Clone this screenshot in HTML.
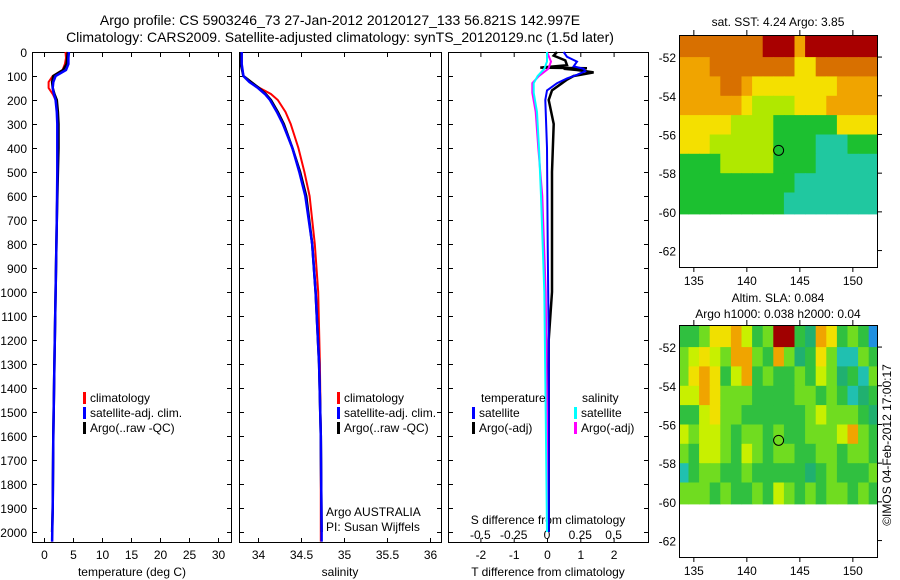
<!DOCTYPE html>
<html><head><meta charset="utf-8"><style>
html,body{margin:0;padding:0;background:#fff;width:900px;height:580px;overflow:hidden}
svg{display:block;font-family:"Liberation Sans",sans-serif}
</style></head><body>
<svg id="c" width="900" height="580" viewBox="0 0 900 580"></svg>
<script>
// ---- data ----
const tDepths=[0,25,50,75,100,125,150,175,200,250,300,400,500,700,1000,1300,1600,1900,2040];
const tClim=[3.7,3.8,3.6,3.2,1.5,0.8,0.8,1.5,2.0,2.3,2.4,2.4,2.3,2.2,2.0,1.8,1.6,1.5,1.4];
const tSat=[4.3,4.2,4.2,3.8,2.0,1.6,1.5,1.7,2.0,2.2,2.3,2.3,2.3,2.2,2.0,1.8,1.6,1.5,1.4];
const tArgoDepths=[0,25,50,75,100,125,150,175,200,250,300,400,500,700,1000,1300,1600,1900,2000];
const tArgo=[4.1,4.0,3.9,3.3,1.6,1.4,1.5,1.8,2.2,2.4,2.5,2.5,2.4,2.2,2.0,1.8,1.6,1.5,1.4];
const sDepths=[0,50,100,125,150,175,200,250,300,400,500,600,800,1000,1300,1600,2000,2040];
const sClim=[33.81,33.81,33.83,33.9,34.02,34.15,34.23,34.32,34.38,34.47,34.54,34.6,34.66,34.7,34.72,34.73,34.73,34.73];
const sSat=[33.81,33.81,33.83,33.9,34.0,34.08,34.14,34.22,34.29,34.4,34.48,34.55,34.63,34.67,34.71,34.73,34.74,34.74];
const sArgoDepths=[0,50,100,125,150,175,200,250,300,400,500,600,800,1000,1300,1600,2000];
const sArgo=[33.80,33.80,33.83,33.92,34.01,34.09,34.15,34.23,34.30,34.40,34.49,34.56,34.63,34.67,34.71,34.73,34.74];
const dtSatDepths=[0,20,40,60,70,80,95,110,130,160,200,400,800,1200,1600,2000];
const dtSat=[0.5,0.6,0.9,0.8,1.1,1.15,0.9,0.6,0.3,0.0,-0.05,0.0,0.02,0.05,0.05,0.05];
const dtArgoDepths=[0,15,35,55,65,68,70,75,85,100,115,130,160,200,300,500,800,1000,1200,1600,2000];
const dtArgo=[0.3,0.2,0.55,0.6,-0.2,1.2,0.5,0.9,1.4,0.8,0.6,0.45,0.15,0.05,0.2,0.15,0.15,0.15,0.05,0.05,0.05];
const dsDepths=[0,40,70,100,130,170,250,400,600,1000,1500,2000];
const dsSat=[0,0.0,-0.02,-0.07,-0.1,-0.1,-0.075,-0.06,-0.045,-0.02,-0.01,0.0];
const dsArgo=[0,0.03,0.01,-0.06,-0.11,-0.11,-0.085,-0.065,-0.035,-0.01,0.0,0.0];
const depthTicks=[0,100,200,300,400,500,600,700,800,900,1000,1100,1200,1300,1400,1500,1600,1700,1800,1900,2000];
const tTicks=[0,5,10,15,20,25,30];
const sTicks=[34,34.5,35,35.5,36];
const sTickLabels=['34','34.5','35','35.5','36'];
const dtTicks=[-2,-1,0,1,2];
const dsTicks=[-0.5,-0.25,0,0.25,0.5];
const dsTickLabels=['-0.5','-0.25','0','0.25','0.5'];
const lonTicks=[135,140,145,150];
const latTicks=[-52,-54,-56,-58,-60,-62];
const argoLon=142.997, argoLat=-56.821;
const sstRows=["6666666677757777777","5556666666644666666","5555665444444445555","5555554333344455555","4444433332222224444","4443333332222111222","2222333332222111111","2222222222211111111","2222222222111111111"];
const slaRows=["1124453127710541219","2343255215201428821","2454135121121320182","3354222111122121801","1134221111112322210","3233212212112223521","2133213212211221221","8122112111110121112","2221211213212122121"];
const sstColors={'1':'#20c8a0','2':'#1cc030','3':'#b0e800','4':'#f4e000','5':'#f0a400','6':'#d87000','7':'#a80000'};
const slaColors={'0':'#20b070','1':'#30c040','2':'#70dc20','3':'#c8f000','4':'#f0e000','5':'#f0a400','6':'#d87000','7':'#a00000','8':'#20c0b0','9':'#2090e0'};

// ---- helpers ----
const svg=document.getElementById('c');
const NS='http://www.w3.org/2000/svg';
function mk(tag,attrs,parent){const e=document.createElementNS(NS,tag);for(const k in attrs)e.setAttribute(k,attrs[k]);(parent||svg).appendChild(e);return e;}
function txt(x,y,s,anchor,size,parent){const t=mk('text',{x:x,y:y,'text-anchor':anchor||'start','font-size':size||12,fill:'#000'},parent);t.textContent=s;return t;}
const yTop=52,yBot=542;
function yD(d){return yTop+d*0.2400;}
function xT(v){return 44+v*5.8;}
function xS(v){return 258+(v-34)*86;}
function xDT(v){return 547+v*33.3;}
function xDS(v){return 547+v*133.2;}
function line(xs,ds,xf,color,w,name){const p=mk('polyline',{points:xs.map((v,i)=>xf(v).toFixed(1)+','+yD(ds[i]).toFixed(1)).join(' '),fill:'none',stroke:color,'stroke-width':w,'stroke-linejoin':'miter'});return p;}

// titles
let t1=txt(340,25,'Argo profile: CS 5903246_73 27-Jan-2012 20120127_133 56.821S 142.997E','middle',14);

let t2=txt(340,42,'Climatology: CARS2009. Satellite-adjusted climatology: synTS_20120129.nc (1.5d later)','middle',14);


// panels
function frame(x0,x1,name){const r=mk('rect',{x:x0+0.5,y:yTop+0.5,width:x1-x0,height:yBot-yTop,fill:'none',stroke:'#000','stroke-width':1});
  depthTicks.forEach(d=>{mk('line',{x1:x0,x2:x0+5,y1:yD(d)+0.5,y2:yD(d)+0.5,stroke:'#000'});mk('line',{x1:x1-4,x2:x1+1,y1:yD(d)+0.5,y2:yD(d)+0.5,stroke:'#000'});});}
frame(32,231,'temperature-panel');frame(239,441,'salinity-panel');frame(448,648,'difference-panel');
depthTicks.forEach(d=>{const t=txt(27,yD(d)+5,String(d),'end',12);});
tTicks.forEach(v=>{const x=xT(v)+0.5;mk('line',{x1:x,x2:x,y1:yBot-4,y2:yBot,stroke:'#000'});mk('line',{x1:x,x2:x,y1:yTop,y2:yTop+5,stroke:'#000'});const t=txt(x,yBot+17,String(v),'middle',12);});
sTicks.forEach((v,i)=>{const x=xS(v)+0.5;mk('line',{x1:x,x2:x,y1:yBot-4,y2:yBot,stroke:'#000'});mk('line',{x1:x,x2:x,y1:yTop,y2:yTop+5,stroke:'#000'});const t=txt(x,yBot+17,sTickLabels[i],'middle',12);});
dtTicks.forEach(v=>{const x=xDT(v)+0.5;mk('line',{x1:x,x2:x,y1:yBot-4,y2:yBot,stroke:'#000'});mk('line',{x1:x,x2:x,y1:yTop,y2:yTop+5,stroke:'#000'});const t=txt(x,yBot+17,String(v),'middle',12);});
dsTicks.forEach((v,i)=>{const t=txt(xDS(v),yBot-3,dsTickLabels[i],'middle',12);});
let a=txt(132,576,'temperature (deg C)','middle',12);
a=txt(340,576,'salinity','middle',12);
a=txt(548,576,'T difference from climatology','middle',12);
a=txt(548,524,'S difference from climatology','middle',12);

// series
line(tClim,tDepths,xT,'#f00',2,'temperature-climatology-line');
line(tArgo,tArgoDepths,xT,'#000',2.5,'temperature-argo-line');
line(tSat,tDepths,xT,'#00f',2.5,'temperature-satellite-line');
line(sClim,sDepths,xS,'#f00',2,'salinity-climatology-line');
line(sArgo,sArgoDepths,xS,'#000',2.5,'salinity-argo-line');
line(sSat,sDepths,xS,'#00f',2.5,'salinity-satellite-line');
line(dtArgo,dtArgoDepths,xDT,'#000',2.5,'t-diff-argo-line');
line(dtSat,dtSatDepths,xDT,'#00f',2,'t-diff-satellite-line');
line(dsArgo,dsDepths,xDS,'#f0f',2,'s-diff-argo-line');
line(dsSat,dsDepths,xDS,'#0ff',2,'s-diff-satellite-line');

// legends
function leg(x,y,color,label,name){mk('rect',{x:x,y:y-10,width:3,height:12,fill:color});const t=txt(x+7,y,label,'start',12);}
leg(83,402,'#f00','climatology','legend-climatology');leg(83,417,'#00f','satellite-adj. clim.','legend-satellite');leg(83,432,'#000','Argo(..raw -QC)','legend-argo');
leg(337,402,'#f00','climatology','legend-climatology-2');leg(337,417,'#00f','satellite-adj. clim.','legend-satellite-2');leg(337,432,'#000','Argo(..raw -QC)','legend-argo-2');
a=txt(481,402,'temperature','start',12);
a=txt(582,402,'salinity','start',12);
leg(472,417,'#00f','satellite','legend-t-satellite');leg(472,432,'#000','Argo(-adj)','legend-t-argo');
leg(574,417,'#0ff','satellite','legend-s-satellite');leg(574,432,'#f0f','Argo(-adj)','legend-s-argo');
a=txt(326,516,'Argo AUSTRALIA','start',12);
a=txt(326,531,'PI: Susan Wijffels','start',12);

// maps
function map(top,rows,colors,name,title1,title2){
  const x0=679,x1=877,lon0=133.6,lat0=-50.86,px=10.6,py=19.35;
  const X=l=>x0+(l-lon0)*px, Y=l=>top+(lat0-l)*py;
  const g=mk('g',{});
  const cid=name+'-clip';const cp=mk('clipPath',{id:cid},g);mk('rect',{x:x0,y:top,width:x1-x0,height:Y(-63)-top},cp);
  const cells=mk('g',{'clip-path':'url(#'+cid+')'},g);
  rows.forEach((r,k)=>{const la=k===0?-50.5:-51-k, lb=k===rows.length-1?-60.1:-52-k;
    for(let i=0;i<r.length;i++){const lo=133.5+i;mk('rect',{x:X(lo).toFixed(1),y:Y(la).toFixed(1),width:(px+0.6).toFixed(1),height:(Y(lb)-Y(la)+0.6).toFixed(1),fill:colors[r[i]]},cells);}});
  const bottom=Y(-62.85);
  mk('rect',{x:x0+0.5,y:top+0.5,width:x1-x0,height:bottom-top,fill:'none',stroke:'#000'},g);
  lonTicks.forEach(l=>{const x=X(l);mk('line',{x1:x,x2:x,y1:top,y2:top-5,stroke:'#000'},g);mk('line',{x1:x,x2:x,y1:bottom,y2:bottom+5,stroke:'#000'},g);const t=txt(x,bottom+18,String(l),'middle',12,g);});
  latTicks.forEach(l=>{const y=Y(l);mk('line',{x1:x1,x2:x1+5,y1:y,y2:y,stroke:'#000'},g);const t=txt(x0-3,y+5,String(l),'end',12,g);});
  const c=mk('circle',{cx:X(argoLon),cy:Y(argoLat),r:5,fill:'none',stroke:'#000'},g);
  let t=txt(778,top-9,title1,'middle',12,g);
  if(title2){t.setAttribute('y',top-23);t=txt(778,top-7,title2,'middle',12,g);}
}
map(35,sstRows,sstColors,'sst-map','sat. SST: 4.24  Argo: 3.85');
map(325,slaRows,slaColors,'sla-map','Altim. SLA: 0.084','Argo h1000: 0.038 h2000: 0.04');
a=txt(0,0,'©IMOS 04-Feb-2012 17:00:17','middle',12);a.setAttribute('transform','translate(891,445) rotate(-90)');

</script>
</body></html>
